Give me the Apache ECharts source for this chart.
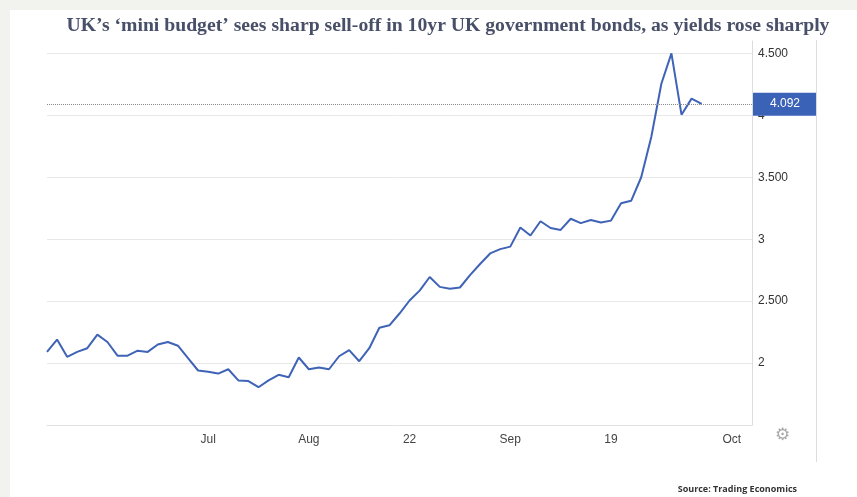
<!DOCTYPE html>
<html>
<head>
<meta charset="utf-8">
<script src="https://cdn.jsdelivr.net/npm/echarts@6/dist/echarts.min.js"></script>
<style>
  html, body { margin: 0; padding: 0; background: #f2f3ee; }
  #chart { width: 857px; height: 497px; }
</style>
</head>
<body>
<div id="chart"></div>
<script>
// Trading days (categories)
const dates = [
  'Jul 1',
  'Jul 4','Jul 5','Jul 6','Jul 7','Jul 8',
  'Jul 11','Jul 12','Jul 13','Jul 14','Jul 15',
  'Jul 18','Jul 19','Jul 20','Jul 21','Jul 22',
  'Jul 25','Jul 26','Jul 27','Jul 28','Jul 29',
  'Aug 1','Aug 2','Aug 3','Aug 4','Aug 5',
  'Aug 8','Aug 9','Aug 10','Aug 11','Aug 12',
  'Aug 15','Aug 16','Aug 17','Aug 18','Aug 19',
  'Aug 22','Aug 23','Aug 24','Aug 25','Aug 26',
  'Aug 29','Aug 30','Aug 31','Sep 1','Sep 2',
  'Sep 5','Sep 6','Sep 7','Sep 8','Sep 9',
  'Sep 12','Sep 13','Sep 14','Sep 15','Sep 16',
  'Sep 19','Sep 20','Sep 21','Sep 22','Sep 23',
  'Sep 26','Sep 27','Sep 28','Sep 29','Sep 30',
  'Oct 3','Oct 4','Oct 5','Oct 6','Oct 7'
];

// UK 10yr gilt yield (%)
const yields = [
  2.09, 2.19, 2.05, 2.09, 2.12, 2.23, 2.17, 2.06, 2.06, 2.10,
  2.09, 2.15, 2.17, 2.14, 2.04, 1.94, 1.93, 1.915, 1.95, 1.86,
  1.855, 1.805, 1.86, 1.905, 1.885, 2.045, 1.95, 1.965, 1.95, 2.055,
  2.105, 2.015, 2.12, 2.285, 2.305, 2.40, 2.505, 2.585, 2.695, 2.615,
  2.60, 2.61, 2.71, 2.80, 2.885, 2.92, 2.94, 3.095, 3.03, 3.145,
  3.09, 3.075, 3.165, 3.13, 3.155, 3.135, 3.15, 3.29, 3.31, 3.50,
  3.825, 4.255, 4.50, 4.005, 4.135, 4.092
];

// x-axis tick labels
const tickDates  = ['Jul 25', 'Aug 8', 'Aug 22', 'Sep 5', 'Sep 19', 'Oct 5'];
const tickLabels = ['Jul', 'Aug', '22', 'Sep', '19', 'Oct'];

const titleText = 'UK\u2019s \u2018mini budget\u2019 sees sharp sell-off in 10yr UK government bonds, as yields rose sharply';
const sourceText = 'Source: Trading Economics';

const lastValue = yields[yields.length - 1];

const chart = echarts.init(document.getElementById('chart'));
chart.setOption({
  backgroundColor: 'transparent',
  animation: false,
  title: {
    text: titleText,
    left: 443,
    top: 11,
    textAlign: 'center',
    textStyle: {
      fontFamily: 'Liberation Serif',
      fontWeight: 'bold',
      fontSize: 19.7,
      color: '#484f68'
    }
  },
  graphic: [
    { type: 'rect', z: -10, shape: { x: 10, y: 10, width: 847, height: 487 }, style: { fill: '#ffffff' } },
    { type: 'line', z: 1, shape: { x1: 816.5, y1: 40, x2: 816.5, y2: 462 }, style: { stroke: '#dddddd', lineWidth: 1 } },
    { type: 'text', z: 1, left: 775, top: 427, style: { text: '\u2699', font: '17px "DejaVu Sans"', fill: '#aaaaaa' } },
    { type: 'text', z: 1, right: 60, top: 485, style: { text: sourceText, font: 'bold 9px "Open Sans"', fill: '#333333' } }
  ],
  grid: { left: 47, right: 105, top: 41, bottom: 72, containLabel: false },
  xAxis: {
    type: 'category',
    data: dates,
    boundaryGap: false,
    axisTick: { show: false },
    axisLine: { lineStyle: { color: '#e2e2e2', width: 1 } },
    axisLabel: {
      interval: (i, v) => tickDates.indexOf(v) >= 0,
      formatter: (v) => { const k = tickDates.indexOf(v); return k >= 0 ? tickLabels[k] : ''; },
      color: '#444',
      fontFamily: 'Liberation Sans',
      fontSize: 12,
      margin: 9
    },
    splitLine: { show: false }
  },
  yAxis: {
    type: 'value',
    position: 'right',
    min: 1.5,
    max: 4.6,
    interval: 0.5,
    axisLine: { show: true, lineStyle: { color: '#dcdcdc' } },
    axisTick: { show: false },
    axisLabel: {
      margin: 6,
      color: '#333',
      fontFamily: 'Liberation Sans',
      fontSize: 12,
      showMinLabel: false,
      showMaxLabel: false,
      formatter: (v) => {
        const r = Math.round(v * 2) / 2;
        if (Math.abs(r - v) > 1e-6 || v < 1.9) return '';
        return Number.isInteger(r) ? String(r) : r.toFixed(3);
      }
    },
    splitLine: {
      show: true,
      lineStyle: {
        color: ['rgba(0,0,0,0)', '#e8e8e8', '#e8e8e8', '#e8e8e8', '#e8e8e8', '#e8e8e8', '#e8e8e8', 'rgba(0,0,0,0)'],
        width: 1
      }
    }
  },
  series: [{
    type: 'line',
    data: yields,
    showSymbol: false,
    smooth: false,
    lineStyle: { color: '#3f63b6', width: 2 },
    itemStyle: { color: '#3f63b6' },
    markLine: {
      silent: true,
      symbol: ['none', 'none'],
      lineStyle: { color: '#8a8a8a', type: 'dotted', width: 1 },
      label: {
        show: true,
        position: 'end',
        distance: 1,
        formatter: () => lastValue.toFixed(3),
        color: '#ffffff',
        backgroundColor: '#3a62b7',
        fontFamily: 'Liberation Sans',
        fontSize: 12,
        lineHeight: 14,
        padding: [5, 16, 4, 17]
      },
      data: [{ yAxis: lastValue }]
    }
  }]
});
</script>
</body>
</html>
